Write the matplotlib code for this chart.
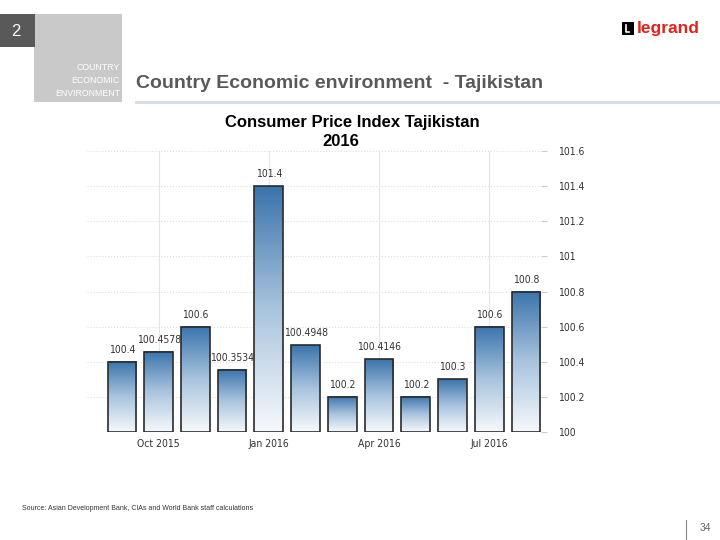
import numpy as np
from matplotlib import pyplot
from matplotlib.colors import LinearSegmentedColormap
from matplotlib.patches import Rectangle

# data
months = ["Sep 2015", "Oct 2015", "Nov 2015", "Dec 2015", "Jan 2016", "Feb 2016",
          "Mar 2016", "Apr 2016", "May 2016", "Jun 2016", "Jul 2016", "Aug 2016"]
values = [100.4, 100.4578, 100.6, 100.3534, 101.4, 100.4948,
          100.2, 100.4146, 100.2, 100.3, 100.6, 100.8]
value_labels = ["100.4", "100.4578", "100.6", "100.3534", "101.4", "100.4948",
                "100.2", "100.4146", "100.2", "100.3", "100.6", "100.8"]
x_tick_pos = [1, 4, 7, 10]
x_tick_labels = ["Oct 2015", "Jan 2016", "Apr 2016", "Jul 2016"]
y_ticks = [100, 100.2, 100.4, 100.6, 100.8, 101, 101.2, 101.4, 101.6]
y_tick_labels = ["100", "100.2", "100.4", "100.6", "100.8", "101", "101.2", "101.4", "101.6"]

W, H = 720, 540
COND = dict(family="DejaVu Sans", fontstretch="condensed")


def px(x0, y0, w, h):
    # pixel box (top-left origin) -> figure fraction
    return [x0 / W, 1 - (y0 + h) / H, w / W, h / H]


fig = pyplot.figure(figsize=(7.2, 5.4), dpi=100)
fig.patch.set_facecolor("white")

# slide decoration
bg = fig.add_axes([0, 0, 1, 1])
bg.set_xlim(0, W)
bg.set_ylim(H, 0)
bg.axis("off")
bg.add_patch(Rectangle((34, 14), 88, 88, color="#c9c9c9", lw=0))
bg.add_patch(Rectangle((0, 14), 35, 33, color="#595959", lw=0))
bg.text(16, 31, "2", color="white", fontsize=12, ha="center", va="center",
        family="Liberation Sans")
for i, t in enumerate(["COUNTRY", "ECONOMIC", "ENVIRONMENT"]):
    bg.text(120, 67 + i * 13.5, t, color="white", fontsize=6.3, ha="right",
            va="center", family="Liberation Sans")
bg.text(136, 84, "Country Economic environment  - Tajikistan", color="#595959",
        fontsize=14, fontweight="bold", ha="left", va="center", family="Liberation Sans")
bg.plot([136, 720], [102, 102], color="#d3dde5", lw=2)
# logo
bg.add_patch(Rectangle((622, 22), 12, 13, color="black", lw=0))
bg.plot([625.5, 625.5, 629], [24.5, 32, 32], color="white", lw=1.2)
bg.text(637, 29, "legrand", color="#e2231a", fontsize=12.5, fontweight="bold",
        ha="left", va="center", family="Liberation Sans", fontstretch="condensed")
bg.text(22, 508, "Source: Asian Development Bank, CIAs and World Bank staff calculations",
        color="#333333", fontsize=5, ha="left", va="center", family="Liberation Sans")
bg.plot([686, 686], [520, 540], color="#888888", lw=0.8)
bg.text(705, 528, "34", color="#666666", fontsize=7.5, ha="center", va="center",
        family="Liberation Sans")
bg.text(352, 122, "Consumer Price Index Tajikistan", color="black", fontsize=12,
        fontweight="bold", ha="center", va="center", family="Liberation Sans")
bg.text(341, 142, "2016", color="black", fontsize=12,
        fontweight="bold", ha="center", va="center", family="Liberation Sans")

# chart
ax = fig.add_axes(px(87, 151, 454, 281))
cmap = LinearSegmentedColormap.from_list("cpi", ["#f6f9fc", "#a9c4de", "#3a74ac"])
grad = np.linspace(0, 1, 256).reshape(-1, 1)
xs = np.arange(len(values))
bars = ax.bar(xs, np.array(values) - 100, bottom=100, width=0.78,
              facecolor="none", edgecolor="#2b2b2b", lw=1.2, zorder=3)
for rect, v, lab in zip(bars, values, value_labels):
    x0 = rect.get_x()
    ax.imshow(grad, cmap=cmap, origin="lower", aspect="auto", zorder=2,
              extent=[x0, x0 + rect.get_width(), 100, v])
    ax.annotate(lab, (rect.get_x() + rect.get_width() / 2, v), xytext=(0, 5),
                textcoords="offset points", ha="center", va="bottom",
                fontsize=7.5, color="#333333", **COND)

ax.set_xlim(-0.95, 11.41)
ax.set_ylim(100, 101.6)
for s in ax.spines.values():
    s.set_visible(False)
ax.yaxis.tick_right()
ax.set_yticks(y_ticks)
ax.set_yticklabels(y_tick_labels, fontsize=7.5, color="#333333", **COND)
ax.set_xticks(x_tick_pos)
ax.set_xticklabels(x_tick_labels, fontsize=7.5, color="#333333", **COND)
ax.tick_params(axis="y", length=4, color="#cccccc", pad=8)
ax.tick_params(axis="x", length=0, pad=5)
ax.grid(axis="y", color="#dddddd", lw=0.8, ls=":", zorder=0)
ax.grid(axis="x", color="#e6e6e6", lw=0.8, zorder=0)
ax.set_axisbelow(True)

pyplot.savefig("out.png", dpi=100)
